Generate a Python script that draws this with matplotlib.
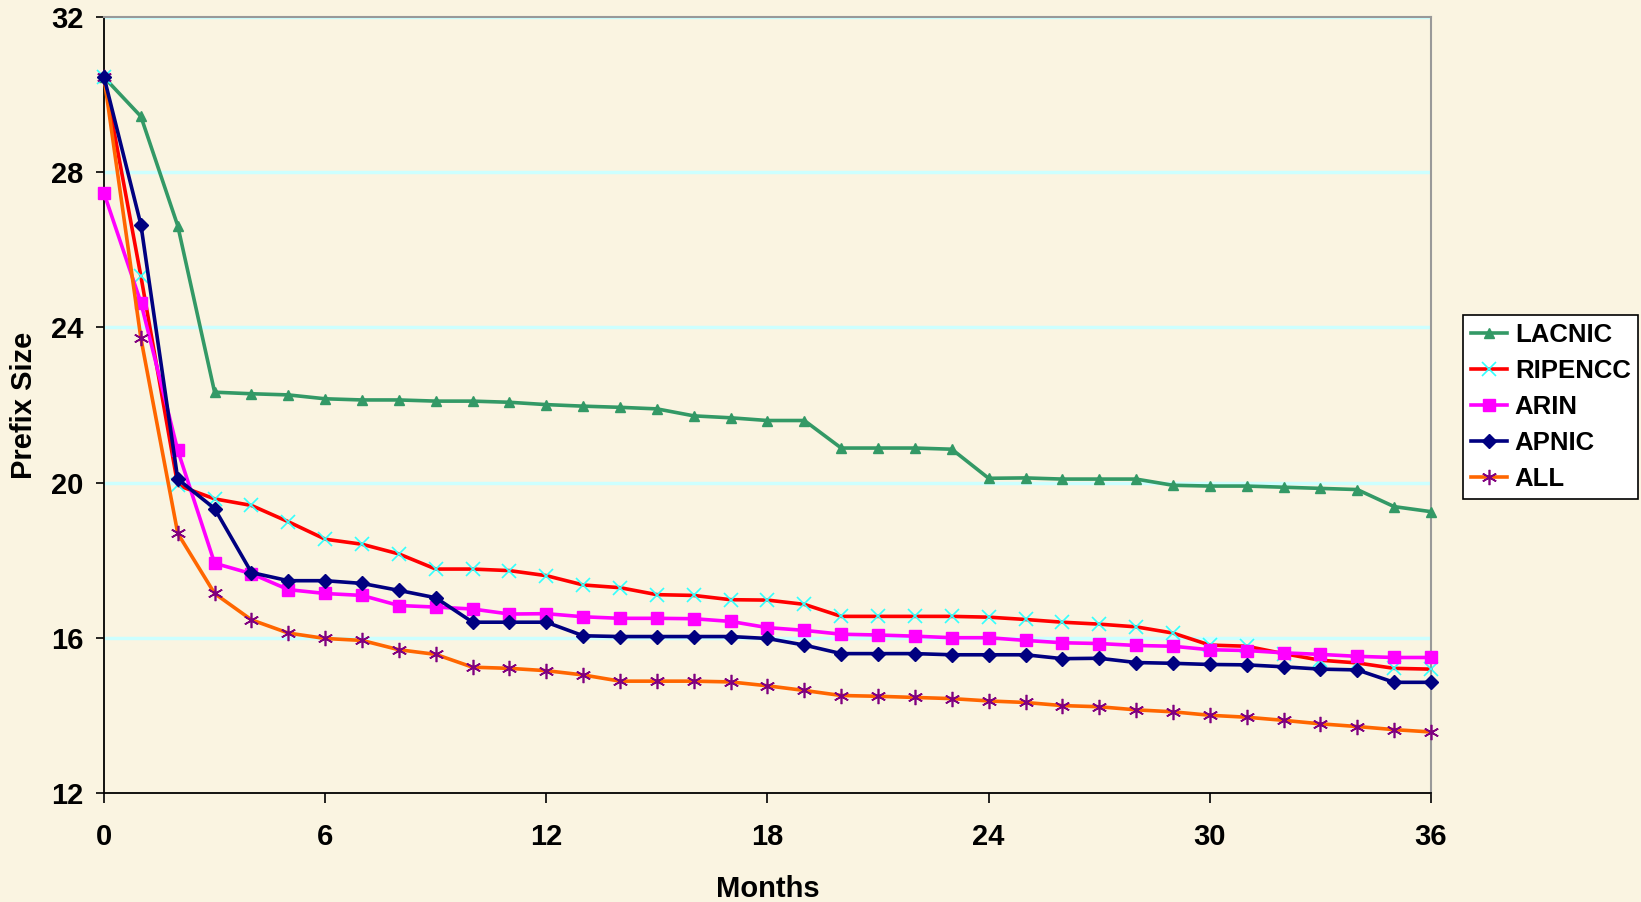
import numpy as np
import matplotlib
matplotlib.use("Agg")
import matplotlib.pyplot as plt

plt.rcParams['font.family'] = ['Liberation Sans', 'DejaVu Sans']
plt.rcParams['font.weight'] = 'bold'

months = np.arange(0, 37)

lacnic = [30.45, 29.44, 26.62, 22.33, 22.29, 22.26, 22.16, 22.13, 22.13, 22.10, 22.10, 22.07,
          22.01, 21.97, 21.94, 21.90, 21.72, 21.67, 21.60, 21.60, 20.89, 20.89, 20.89, 20.86,
          20.11, 20.12, 20.09, 20.09, 20.09, 19.93, 19.91, 19.91, 19.88, 19.85, 19.82, 19.38, 19.25]
ripencc = [30.45, 25.32, 19.93, 19.58, 19.41, 18.99, 18.54, 18.41, 18.16, 17.77, 17.77, 17.73,
           17.60, 17.36, 17.29, 17.11, 17.09, 16.98, 16.97, 16.86, 16.55, 16.55, 16.55, 16.55,
           16.53, 16.47, 16.40, 16.35, 16.28, 16.12, 15.81, 15.78, 15.59, 15.42, 15.35, 15.21, 15.19]
arin = [27.46, 24.64, 20.83, 17.92, 17.65, 17.24, 17.14, 17.09, 16.83, 16.79, 16.74, 16.61,
        16.62, 16.54, 16.50, 16.50, 16.49, 16.42, 16.26, 16.19, 16.09, 16.07, 16.04, 16.00,
        16.00, 15.93, 15.87, 15.85, 15.80, 15.78, 15.69, 15.67, 15.61, 15.57, 15.52, 15.49, 15.49]
apnic = [30.45, 26.65, 20.09, 19.33, 17.68, 17.47, 17.47, 17.40, 17.22, 17.03, 16.40, 16.40,
         16.40, 16.05, 16.03, 16.03, 16.03, 16.03, 15.98, 15.81, 15.59, 15.59, 15.59, 15.56,
         15.56, 15.56, 15.46, 15.47, 15.36, 15.34, 15.31, 15.30, 15.25, 15.19, 15.17, 14.85, 14.85]
all_ = [30.45, 23.72, 18.69, 17.14, 16.46, 16.12, 15.98, 15.93, 15.69, 15.57, 15.24, 15.21,
        15.15, 15.04, 14.88, 14.88, 14.88, 14.86, 14.76, 14.64, 14.51, 14.49, 14.46, 14.43,
        14.37, 14.33, 14.25, 14.22, 14.14, 14.09, 14.00, 13.95, 13.87, 13.78, 13.71, 13.63, 13.57]

bg = '#FAF4E1'
fig = plt.figure(figsize=(16.41, 9.02), dpi=100, facecolor=bg)
ax = fig.add_axes([0.0634, 0.121, 0.8086, 0.86])
ax.set_facecolor(bg)

for y in [16, 20, 24, 28, 32]:
    ax.axhline(y, color='#CCFFFF', lw=2.5, zorder=1)

lw = 2.6
ax.plot(months, lacnic, color='#339966', lw=lw, marker='^', ms=7, label='LACNIC', clip_on=False, zorder=3)
ax.plot(months, ripencc, color='#FF0000', lw=lw, marker='x', ms=10, mec='#33FFFF', mew=1.2,
        label='RIPENCC', clip_on=False, zorder=3)
ax.plot(months, arin, color='#FF00FF', lw=lw, marker='s', ms=9, label='ARIN', clip_on=False, zorder=3)
ax.plot(months, apnic, color='#000080', lw=lw, marker='D', ms=7, label='APNIC', clip_on=False, zorder=4)
ax.plot(months, all_, color='#FF6600', lw=lw, marker=(6, 2, 0), ms=11, mec='#800080', mew=1.2,
        label='ALL', clip_on=False, zorder=3)

ax.set_xlim(0, 36)
ax.set_ylim(12, 32)
ax.set_xticks(range(0, 37, 6))
ax.set_yticks(range(12, 33, 4))
ax.tick_params(axis='x', direction='out', length=7, width=1.2, pad=15, labelsize=21)
ax.tick_params(axis='y', direction='out', length=6, width=1.2, pad=9, labelsize=21)

for s in ['left', 'bottom']:
    ax.spines[s].set_color('black')
    ax.spines[s].set_linewidth(1.3)
for s in ['top', 'right']:
    ax.spines[s].set_color('#999999')
    ax.spines[s].set_linewidth(1.5)

ax.set_xlabel('Months', fontsize=21, fontweight='bold')
ax.set_ylabel('Prefix Size', fontsize=21, fontweight='bold')
ax.xaxis.set_label_coords(0.5, -0.106)
ax.yaxis.set_label_coords(-0.0497, 0.5)

leg = ax.legend(loc='upper left', bbox_to_anchor=(1.0245, 0.616), fontsize=18.5, frameon=True,
                fancybox=False, edgecolor='black', facecolor='white', framealpha=1,
                handlelength=1.4, handletextpad=0.3, labelspacing=0.47, borderpad=0.3,
                borderaxespad=0)
leg.get_frame().set_linewidth(1.2)

fig.savefig('out.png', dpi=100, facecolor=bg)
